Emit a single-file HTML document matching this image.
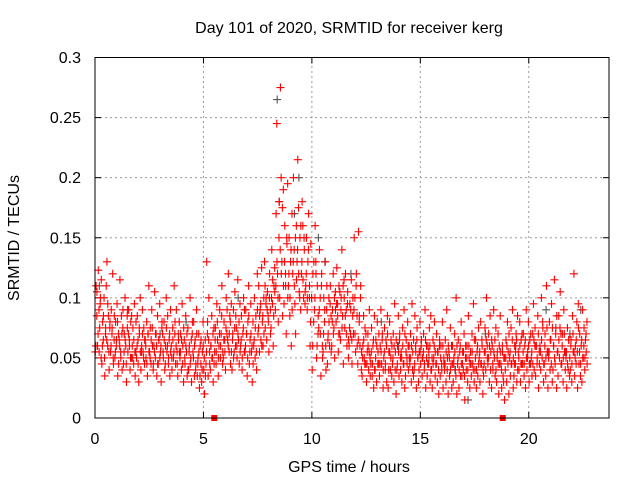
<!DOCTYPE html>
<html><head><meta charset="utf-8"><style>
body{margin:0;background:#fff}
svg{display:block;font-family:"Liberation Sans",sans-serif}
</style></head><body>
<svg id="chart" width="640" height="480">
<text x="349" y="33" text-anchor="middle" font-size="16">Day 101 of 2020, SRMTID for receiver kerg</text>
<text x="349" y="472" text-anchor="middle" font-size="16">GPS time / hours</text>
<text transform="translate(19,238) rotate(-90)" text-anchor="middle" font-size="16">SRMTID / TECUs</text>
<g id="grid"></g><g id="ticks"></g><g id="marks"></g>
<rect x="95" y="57.5" width="514" height="360.5" fill="none" stroke="#000" stroke-width="1"/>
</svg>
<script>
const xTicks=[0,5,10,15,20];
const yTicks=[0,0.05,0.1,0.15,0.2,0.25,0.3];
const yTickLabels=["0","0.05","0.1","0.15","0.2","0.25","0.3"];
const binStart=0.0, binStep=0.2;
const redValues=[
[95,120,70,55,110,85],[60,123,90,75,100,50],[45,80,65,100,35,70],[110,130,60,85,40,75],[55,90,70,120,45,65],
[50,80,60,95,35,70],[65,115,55,85,40,75],[45,70,100,60,30,85],[55,90,65,40,80,50],[60,75,45,95,35,55],
[50,85,65,30,70,100],[40,60,90,55,75,45],[65,50,80,35,70,110],[55,75,45,90,60,40],[60,105,50,70,35,85],
[45,65,95,55,30,75],[70,50,80,40,60,100],[55,85,45,65,35,90],[60,40,75,50,110,70],[45,90,55,35,65,80],
[50,70,40,95,60,30],[65,45,85,55,35,75],[40,60,100,50,30,70],[55,80,35,65,45,90],[35,50,70,25,60,45],
[30,55,80,40,20,65],[45,130,70,35,100,55],[40,60,85,50,30,75],[55,75,45,95,65,35],[60,90,50,70,110,45],
[50,80,65,40,100,70],[65,120,55,85,45,95],[40,70,90,55,105,60],[75,50,115,65,45,95],[60,85,40,70,100,55],
[55,90,70,35,80,110],[45,65,95,55,30,80],[60,100,50,85,40,120],[70,110,55,90,65,125],[80,60,100,130,75,95],
[65,105,85,55,120,90],[75,140,95,60,110,125],[90,170,245,120,80,150],[100,275,200,130,85,190],[95,160,120,70,145,195],
[110,150,85,130,60,170],[120,200,140,95,70,160],[130,215,175,105,150,90],[120,180,160,100,140,95],[110,150,90,130,170,100],
[60,145,100,40,120,80],[90,160,130,50,110,70],[75,140,100,35,120,60],[55,100,80,130,40,90],[45,70,100,60,110,85],
[60,90,120,75,50,105],[80,125,95,55,110,70],[65,100,140,85,45,115],[75,120,90,60,105,50],[60,95,70,115,45,85],
[70,150,100,55,120,85],[45,155,80,60,110,40],[35,60,85,50,75,45],[30,55,70,40,90,50],[45,75,35,60,25,85],
[40,65,30,80,55,45],[35,60,90,45,70,25],[50,75,40,65,30,85],[25,55,80,40,65,35],[45,70,30,95,55,20],
[40,60,85,35,70,50],[55,30,75,45,90,25],[35,65,50,80,40,60],[45,70,30,95,55,35],[40,85,60,25,75,50],
[30,55,80,45,65,35],[50,70,40,90,25,60],[35,60,45,75,30,85],[40,25,65,50,80,35],[45,70,30,55,20,60],
[35,60,45,80,25,50],[40,65,30,90,50,20],[55,35,75,45,25,60],[30,50,70,40,100,20],[45,65,25,55,35,80],
[35,55,40,70,15,50],[40,60,30,85,50,25],[55,35,70,45,95,30],[40,65,25,55,35,75],[50,30,80,45,60,20],
[35,55,75,40,100,60],[45,70,30,85,55,25],[60,40,90,50,35,75],[30,55,70,20,45,85],[45,25,60,35,50,15],
[40,65,30,80,55,20],[50,35,75,45,90,25],[35,60,45,70,30,85],[55,40,80,30,65,45],[45,70,35,60,25,90],
[40,55,80,30,65,45],[50,35,70,95,40,60],[35,60,45,85,25,55],[60,40,100,50,75,30],[45,70,35,110,55,25],
[50,80,40,65,95,30],[40,60,115,45,75,25],[55,35,85,50,105,70],[45,70,30,90,55,40],[50,25,75,40,65,35],
[40,65,30,85,55,120],[35,60,45,80,25,95],[45,70,35,60,30,90],[50,75,40,65,55,80]];
const redValues2=[
[80,100,60,105],[70,55,95,115],[60,85,50,75],[65,95,55,80],[60,75,50,85],
[55,65,80,45],[60,50,70,90],[55,65,45,75],[70,60,50,85],[50,65,55,80],
[60,45,75,55],[55,70,50,65],[60,45,70,55],[50,65,75,45],[55,70,60,45],
[65,50,60,80],[55,65,45,75],[60,50,70,55],[50,65,55,80],[60,45,70,55],
[55,65,45,75],[50,60,70,40],[55,45,65,80],[50,60,40,70],[45,55,35,65],
[40,60,50,35],[55,80,65,45],[60,50,70,45],[65,55,80,50],[70,60,85,55],
[65,55,75,90],[60,70,80,55],[65,50,75,85],[60,70,80,55],[65,50,75,90],
[60,70,50,85],[55,70,60,45],[65,75,55,90],[75,85,95,60],[85,70,110,100],
[90,80,100,70],[100,115,85,105],[110,130,100,180],[140,120,175,110],[130,110,150,100],
[120,100,140,90],[130,110,150,115],[140,120,100,160],[130,115,150,105],[120,100,140,110],
[80,100,60,130],[100,120,60,85],[90,70,110,50],[70,90,60,110],[65,80,95,55],
[80,70,100,90],[95,85,70,105],[90,75,110,100],[85,70,95,65],[75,90,65,100],
[90,70,110,60],[65,85,100,55],[50,65,45,70],[45,60,55,35],[55,45,65,40],
[50,60,45,70],[45,55,65,40],[55,45,60,70],[40,55,50,60],[50,60,40,65],
[45,55,65,40],[50,60,45,70],[55,45,60,50],[50,60,40,65],[45,55,65,50],
[40,55,60,50],[55,45,65,50],[45,55,60,40],[50,45,60,55],[45,55,40,65],
[50,40,60,45],[45,55,40,60],[50,40,60,45],[45,55,35,60],[50,40,60,45],
[45,55,35,60],[50,40,60,45],[45,55,40,65],[50,40,60,45],[55,45,65,40],
[45,55,65,50],[50,60,40,65],[45,55,65,40],[50,45,60,55],[40,55,30,50],
[50,60,45,70],[55,45,65,50],[45,55,65,40],[50,60,45,70],[55,45,65,50],
[50,60,45,70],[55,45,65,75],[60,50,70,45],[55,65,80,45],[60,50,75,55],
[55,65,45,75],[60,50,70,85],[55,65,75,45],[60,50,70,55],[55,45,65,50],
[60,45,70,55],[50,65,55,75],[55,45,65,50],[60,50,70,45]];
const grayTimes=[0.2,1.5,3.0,4.2,6.6,8.4,8.5,9.2,9.4,10.3,10.6,11.8,13.2,14.0,15.4,16.6,17.2,18.0,19.4,20.8,21.9,22.4];
const grayValues=[0.11,0.09,0.07,0.08,0.1,0.265,0.18,0.17,0.2,0.15,0.13,0.12,0.08,0.06,0.05,0.04,0.015,0.07,0.06,0.09,0.07,0.09];
const squareTimes=[5.5,18.8];
const squareValues=[0,0];
const X0=95,X1=609,Y0=418,Y1=57.5,XMAX=23.7,YMAX=0.3;
const sx=t=>X0+t/XMAX*(X1-X0);
const sy=v=>Y0-v/YMAX*(Y0-Y1);
const NS="http://www.w3.org/2000/svg";
function mk(tag,attrs,parent){const e=document.createElementNS(NS,tag);for(const k in attrs)e.setAttribute(k,attrs[k]);parent.appendChild(e);return e;}
const grid=document.getElementById('grid'),ticks=document.getElementById('ticks'),marks=document.getElementById('marks');
xTicks.forEach(t=>{const x=sx(t);
 if(t>0){const g=mk('line',{x1:x,x2:x,y1:Y0,y2:Y1,stroke:'#999','stroke-dasharray':'2,3'},grid);
 
 }
 mk('line',{x1:x,x2:x,y1:Y0,y2:Y0-6,stroke:'#000'},ticks);
 mk('line',{x1:x,x2:x,y1:Y1,y2:Y1+6,stroke:'#000'},ticks);
 const l=mk('text',{x:x,y:444,'text-anchor':'middle','font-size':16},ticks);l.textContent=t;
 
 
});
yTicks.forEach((v,i)=>{const y=sy(v);
 if(i>0&&i<yTicks.length-1){const g=mk('line',{x1:X0,x2:X1,y1:y,y2:y,stroke:'#999','stroke-dasharray':'2,3'},grid);
 
 }
 mk('line',{x1:X0,x2:X0+6,y1:y,y2:y,stroke:'#000'},ticks);
 mk('line',{x1:X1,x2:X1-6,y1:y,y2:y,stroke:'#000'},ticks);
 const l=mk('text',{x:81,y:y+5.5,'text-anchor':'end','font-size':16},ticks);l.textContent=yTickLabels[i];
 
 
});
function plus(t,v,color,name){const x=sx(t),y=sy(v);
 const p=mk('path',{d:`M${x-4},${y}h8M${x},${y-4}v8`,stroke:color,'stroke-width':1.1},marks);
 
 
}
grayTimes.forEach((t,i)=>plus(t,grayValues[i],'#555','gray-point'));
redValues.forEach((row,b)=>row.forEach((v,k)=>{
 const t=binStart+b*binStep+(k-2.5)*binStep/6;
 if(t>=0&&t<=XMAX) plus(t,v/1000,'#f00','red-point');
}));
redValues2.forEach((row,b)=>row.forEach((v,k)=>{
 const t=binStart+b*binStep+(k-1.5)*binStep/4+0.015;
 if(t>=0&&t<=XMAX) plus(t,v/1000,'#f00','red-point');
}));
squareTimes.forEach((t,i)=>{const r=mk('rect',{x:sx(t)-3,y:sy(squareValues[i])-3,width:6,height:6,fill:'#f00'},marks);
 
 
});
</script>
</body></html>
